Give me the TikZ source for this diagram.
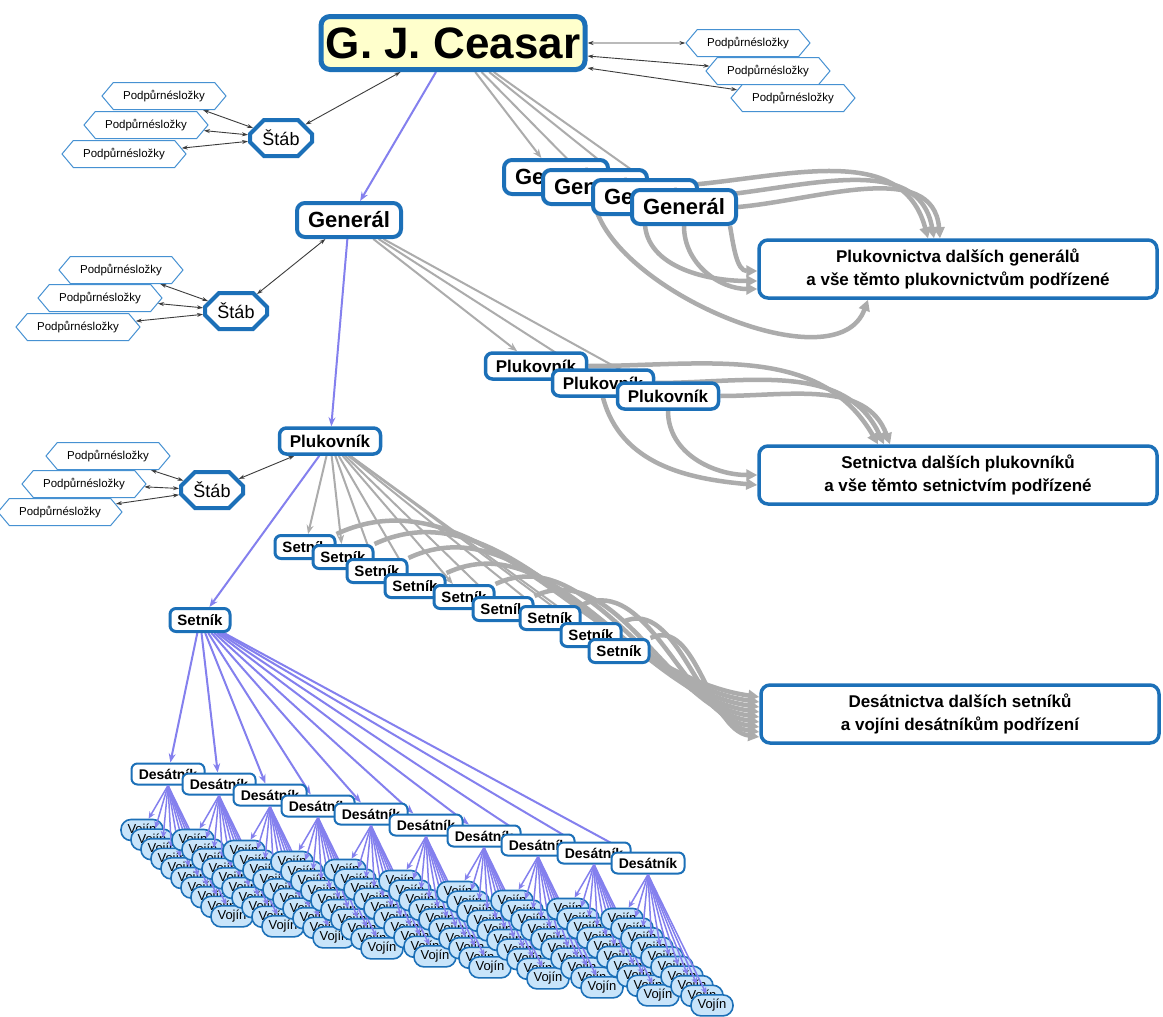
\documentclass[tikz,border=0pt]{standalone}
\usepackage{fontspec}
\setmainfont{Liberation Sans}
\usetikzlibrary{shapes.symbols,shapes.misc,arrows.meta,calc}
\definecolor{bordblue}{RGB}{28,112,184}
\definecolor{capfill}{RGB}{255,255,204}
\definecolor{hexblue}{RGB}{70,145,210}
\definecolor{vojfill}{RGB}{200,228,250}
\definecolor{purp}{RGB}{132,128,238}
\definecolor{grayln}{RGB}{172,172,172}
\definecolor{darkln}{RGB}{60,60,60}
\pgfdeclarelayer{background}
\pgfsetlayers{background,main}
\begin{document}
\begin{tikzpicture}[x=1pt,y=1pt,
  base/.style={draw=bordblue, fill=white, inner sep=0pt, align=center},
  capbox/.style={base, line width=5pt, rounded corners=9pt, fill=capfill, minimum width=264pt, minimum height=53pt, font=\fontsize{44}{48}\selectfont\bfseries},
  genbox/.style={base, line width=4pt, rounded corners=8pt, minimum width=104pt, minimum height=34pt, font=\fontsize{22}{26}\selectfont\bfseries},
  plkbox/.style={base, line width=3.5pt, rounded corners=7pt, minimum width=101pt, minimum height=26pt, font=\fontsize{17}{20}\selectfont\bfseries},
  setbox/.style={base, line width=3pt, rounded corners=6pt, minimum width=60pt, minimum height=23pt, font=\fontsize{15}{18}\selectfont\bfseries},
  desbox/.style={base, line width=2pt, rounded corners=6pt, minimum width=73pt, minimum height=21pt, font=\fontsize{14}{16}\selectfont\bfseries},
  vojbox/.style={base, fill=vojfill, line width=1.6pt, rounded corners=10pt, minimum width=42pt, minimum height=21pt, font=\fontsize{13}{15}\selectfont},
  hexbox/.style={signal, signal to=east and west, signal pointer angle=100, draw=hexblue, fill=white, line width=1pt, minimum width=124pt, minimum height=27pt, inner sep=0pt, font=\fontsize{11.5}{13}\selectfont},
  stabbox/.style={chamfered rectangle, chamfered rectangle xsep=9pt, chamfered rectangle ysep=6pt, draw=bordblue, fill=white, line width=4pt, minimum width=62pt, minimum height=36pt, inner sep=0pt, font=\fontsize{18}{21}\selectfont},
  bigbox/.style={base, line width=3.5pt, rounded corners=9pt, minimum width=398pt, minimum height=58pt, font=\fontsize{17}{23}\selectfont\bfseries},
  pe/.style={draw=purp, line width=2pt, -{Stealth[length=9pt,width=7pt]}},
  ve/.style={draw=purp, line width=1.5pt, -{Stealth[length=7pt,width=6pt]}},
  ge/.style={draw=grayln, line width=2pt, -{Stealth[length=9pt,width=7pt]}},
  gt/.style={draw=grayln, line width=4.5pt, -{Triangle[length=11pt,width=11pt]}},
  de/.style={draw=darkln, line width=0.9pt, {Stealth[length=6pt,width=4pt]}-{Stealth[length=6pt,width=4pt]}}
]
\useasboundingbox (0,0) rectangle (1163,-1017);

% support hexagons
\node[hexbox] (hr1) at (748,-43) {Podpůrnésložky};
\node[hexbox] (hr2) at (768,-71) {Podpůrnésložky};
\node[hexbox] (hr3) at (793,-98) {Podpůrnésložky};
\node[hexbox] (h11) at (164,-96) {Podpůrnésložky};
\node[hexbox] (h12) at (146,-125) {Podpůrnésložky};
\node[hexbox] (h13) at (124,-154) {Podpůrnésložky};
\node[hexbox] (h21) at (121,-270) {Podpůrnésložky};
\node[hexbox] (h22) at (100,-298) {Podpůrnésložky};
\node[hexbox] (h23) at (78,-327) {Podpůrnésložky};
\node[hexbox] (h31) at (108,-456) {Podpůrnésložky};
\node[hexbox] (h32) at (84,-484) {Podpůrnésložky};
\node[hexbox] (h33) at (60,-512) {Podpůrnésložky};

\node[stabbox] (stab1) at (281,-138) {Štáb};
\node[stabbox] (stab2) at (236,-311) {Štáb};
\node[stabbox] (stab3) at (212,-490) {Štáb};

% main chain
\node[capbox] (caesar) at (453,-43) {G. J. Ceasar};
\node[genbox] (gen) at (349,-220) {Generál};
\node[plkbox] (plk) at (330,-441) {Plukovník};
\node[setbox] (set) at (200,-620) {Setník};

% copies
\foreach \k/\x/\y in {1/556/177,2/595/187,3/645/197,4/684/207}
  \node[genbox] (g\k) at (\x,-\y) {Generál};
\node[bigbox] (box1) at (958,-269) {Plukovnictva dalších generálů\\a vše těmto plukovnictvům podřízené};
\foreach \k/\x/\y in {1/536/366,2/603/383,3/668/396}
  \node[plkbox] (p\k) at (\x,-\y) {Plukovník};
\node[bigbox] (box2) at (958,-475) {Setnictva dalších plukovníků\\a vše těmto setnictvím podřízené};
\foreach \k/\x/\y in {1/305/547,2/343/557,3/377/571,4/415/586,5/464/597,6/503/609,7/550/618,8/591/635,9/619/651}
  \node[setbox] (s\k) at (\x,-\y) {Setník};
\node[bigbox] (box3) at (960,-714) {Desátnictva dalších setníků\\a vojíni desátníkům podřízení};

% desatnici
\foreach \k/\x/\y in {1/168/774,2/219/784,3/270/795,4/318/806,5/371/814,6/426/825,7/484/836,8/538/845,9/594/853,10/648/863}
  \node[desbox] (d\k) at (\x,-\y) {Desátník};

% vojini with their edges
\foreach \k/\x/\y in {1/168/774,2/219/784,3/270/795,4/318/806,5/371/814,6/426/825,7/484/836,8/538/845,9/594/853,10/648/863}{
  \foreach \j in {0,...,9}
    \node[vojbox] (v\k-\j) at ({\x-26+10*\j},{-\y-56-9.6*\j}) {Vojín};
  \foreach \j in {0,...,9}
    \draw[ve] (d\k.south) -- (v\k-\j);
}

\begin{pgfonlayer}{background}
  \fill[white] (0,0) rectangle (1163,-1017);
  % dark double arrows
  \draw[de] (caesar.east) -- (hr1);
  \draw[de] ($(caesar.east)+(0,-13)$) -- (hr2);
  \draw[de] ($(caesar.east)+(0,-25)$) -- (hr3);
  \draw[de] (caesar) -- (stab1);
  \draw[de] (gen) -- (stab2);
  \draw[de] (plk) -- (stab3);
  \foreach \s in {1,2,3}{
    \draw[de] (h1\s) -- (stab1);
    \draw[de] (h2\s) -- (stab2);
    \draw[de] (h3\s) -- (stab3);
  }
  % purple main chain
  \draw[pe] (caesar) -- (gen);
  \draw[pe] (gen) -- (plk);
  \draw[pe] (plk) -- (set);
  \foreach \k in {1,...,10} \draw[pe] (set) -- (d\k);
  % thin gray
  \foreach \k in {1,...,4} \draw[ge] (caesar) -- (g\k);
  \foreach \k in {1,2,3} \draw[ge] (gen) -- (p\k);
  \foreach \k in {1,...,9} \draw[ge] (plk) -- (s\k);
  % thick gray to box1
  \draw[gt] (g4.east) to[out=5,in=95] ($(box1.north)+(-18,0)$);
  \draw[gt] (g3.east) to[out=3,in=100] ($(box1.north)+(-24,0)$);
  \draw[gt] (g2.east) to[out=0,in=105] ($(box1.north)+(-30,0)$);
  \draw[gt] (g4.south) to[out=-90,in=180] ($(box1.west)+(0,-20)$);
  \draw[gt] ($(g4.south east)+(-8,0)$) to[out=-80,in=180] ($(box1.west)+(0,-2)$);
  \draw[gt] (g3.south) to[out=-95,in=180] ($(box1.west)+(0,-12)$);
  \draw[gt] (g2.south) to[out=-75,in=-110,looseness=0.8] ($(box1.south)+(-90,0)$);
  % thick gray to box2
  \draw[gt] (p1.east) to[out=0,in=120] ($(box2.north)+(-80,0)$);
  \draw[gt] (p2.east) to[out=0,in=115] ($(box2.north)+(-74,0)$);
  \draw[gt] (p3.east) to[out=0,in=110] ($(box2.north)+(-68,0)$);
  \draw[gt] (p3.south) to[out=-90,in=180] ($(box2.west)+(0,0)$);
  \draw[gt] (p2.south) to[out=-75,in=175] ($(box2.west)+(0,-10)$);
  % thick gray to box3
  \foreach \k in {1,...,9}
    \draw[gt] (s\k.north east) to[out=25,in=172,looseness=0.9] ($(box3.west)+(0,22-5*\k)$);
\end{pgfonlayer}
\end{tikzpicture}
\end{document}
